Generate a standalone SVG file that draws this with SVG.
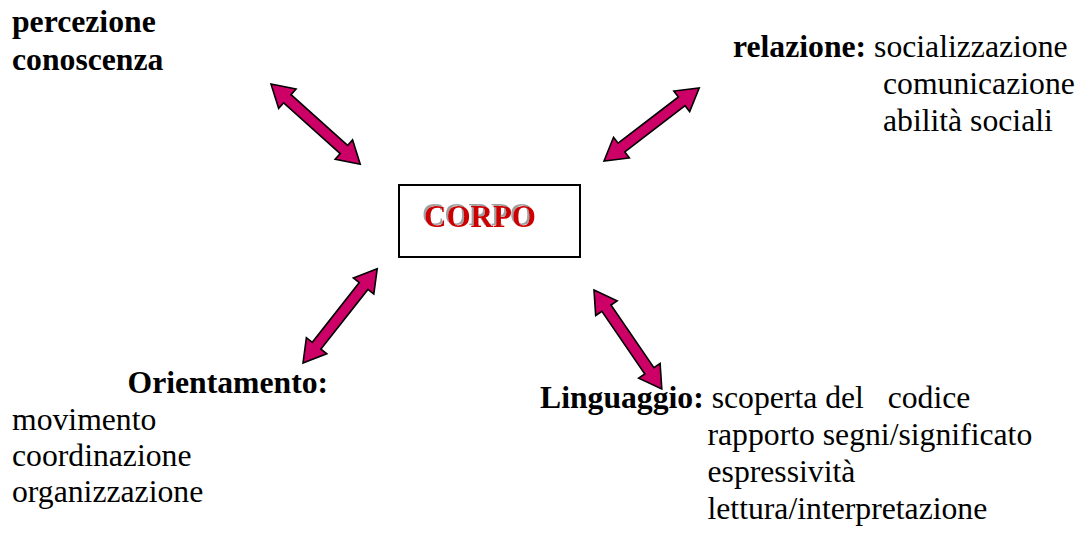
<svg xmlns="http://www.w3.org/2000/svg" xmlns:xlink="http://www.w3.org/1999/xlink" width="1086" height="536" viewBox="0 0 1086 536">
<style>
  text { font-family: "Liberation Serif", "Times New Roman", serif; font-size: 31.7px; fill: #000; white-space: pre; }
  .b { font-weight: bold; }
  .arrow { fill: #CC0066; stroke: #000; stroke-width: 1.6; stroke-linejoin: miter; }
  .corpo { font-size: 31px; font-weight: bold; fill: #CC0000; filter: url(#shadow); }
</style>
<defs>
  <polygon id="dbl" points="0,0 22,-13 22,-5.5 98,-5.5 98,-13 120,0 98,13 98,5.5 22,5.5 22,13"/>
  <filter id="shadow" x="-20%" y="-30%" width="140%" height="160%">
    <feOffset in="SourceAlpha" dx="-2.5" dy="-2.5" result="off"/>
    <feFlood flood-color="#A0A0A0"/>
    <feComposite in2="off" operator="in" result="sh"/>
    <feMerge>
      <feMergeNode in="sh"/>
      <feMergeNode in="SourceGraphic"/>
    </feMerge>
  </filter>
</defs>
<rect width="1086" height="536" fill="#fff"/>
<g id="connectors">
  <use xlink:href="#dbl" class="arrow" transform="translate(271,84) rotate(41.96)"/>
  <use xlink:href="#dbl" class="arrow" transform="translate(604,161) rotate(-37.5)"/>
  <use xlink:href="#dbl" class="arrow" transform="translate(303,363) rotate(-51.8)"/>
  <use xlink:href="#dbl" class="arrow" transform="translate(594,290) rotate(55.6)"/>
</g>
<g id="corpo">
  <rect x="399" y="185" width="181" height="72" fill="#fff" stroke="#000" stroke-width="2"/>
  <text class="corpo" x="424" y="227">CORPO</text>
</g>
<g id="percezione">
  <text class="b" x="12" y="32">percezione</text>
  <text class="b" x="12" y="70">conoscenza</text>
</g>
<g id="relazione">
  <text x="733" y="56.5"><tspan class="b">relazione:</tspan> socializzazione</text>
  <text x="883" y="93.5">comunicazione</text>
  <text x="883" y="131">abilità sociali</text>
</g>
<g id="orientamento">
  <text class="b" x="127.5" y="393">Orientamento:</text>
  <text x="12" y="429.5">movimento</text>
  <text x="12" y="466">coordinazione</text>
  <text x="12" y="502">organizzazione</text>
</g>
<g id="linguaggio">
  <text x="540" y="408"><tspan class="b">Linguaggio:</tspan> scoperta del   codice</text>
  <text x="707.5" y="445">rapporto segni/significato</text>
  <text x="707.5" y="482">espressività</text>
  <text x="707.5" y="518.5">lettura/interpretazione</text>
</g>
</svg>
